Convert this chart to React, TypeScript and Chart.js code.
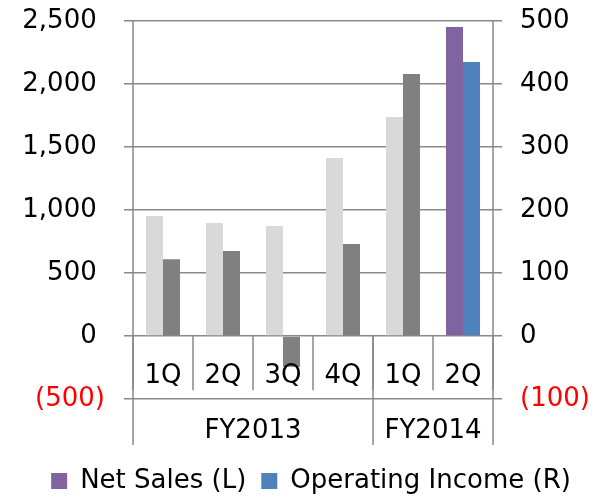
import React, { useEffect, useRef } from "react";
import { Chart, registerables } from "chart.js";

Chart.register(...registerables);

const categories = ["1Q", "2Q", "3Q", "4Q", "1Q", "2Q"];
const groupLabels = ["FY2013", "FY2014"];
const groupSpans = [4, 2];
const netSales = [952, 897, 873, 1413, 1738, 2452];
const operatingIncome = [122, 135, -49, 146, 416, 435];
const netSalesColors = ["#d9d9d9", "#d9d9d9", "#d9d9d9", "#d9d9d9", "#d9d9d9", "#8064a2"];
const operatingIncomeColors = ["#808080", "#808080", "#808080", "#808080", "#808080", "#4f81bd"];
const legendLabels = ["Net Sales (L)", "Operating Income (R)"];
const legendColors = ["#8064a2", "#4f81bd"];
const leftTicks = { min: -500, max: 2500, step: 500 };
const rightTicks = { min: -100, max: 500, step: 100 };

const FONT = "DejaVu Sans";
const FONT_SIZE = 26;
const LINE_COLOR = "#898989";
const GROUP_ROW = 46;

const fmt = (v: number) => {
  const s = Math.abs(v).toLocaleString("en-US");
  return v < 0 ? `(${s})` : `${s} `;
};

const categoryAxisPlugin = {
  id: "categoryAxis",
  afterDatasetsDraw(chart: any) {
    const { ctx, chartArea, scales } = chart;
    const x = scales.x;
    const y = scales.y;
    const y0 = y.getPixelForValue(0);
    const bottom = chartArea.bottom;
    const step = x.getPixelForValue(1) - x.getPixelForValue(0);
    const rowBottom = y0 + (bottom - y0) * 0.86;
    const groupBottom = bottom + GROUP_ROW;
    ctx.save();
    ctx.strokeStyle = LINE_COLOR;
    ctx.lineWidth = 1.5;
    for (let i = 0; i <= categories.length; i++) {
      const px = Math.round(x.getPixelForValue(0) - step / 2 + i * step);
      ctx.beginPath();
      ctx.moveTo(px, y0);
      ctx.lineTo(px, rowBottom);
      ctx.stroke();
    }
    let idx = 0;
    const bounds = [0];
    groupSpans.forEach((s) => {
      idx += s;
      bounds.push(idx);
    });
    bounds.forEach((b) => {
      const px = Math.round(x.getPixelForValue(0) - step / 2 + b * step);
      ctx.beginPath();
      ctx.moveTo(px, b === 0 || b === categories.length ? chartArea.top : y0);
      ctx.lineTo(px, groupBottom);
      ctx.stroke();
    });
    ctx.fillStyle = "#000";
    ctx.font = `${FONT_SIZE}px "${FONT}"`;
    ctx.textAlign = "center";
    ctx.textBaseline = "alphabetic";
    const labelY = y0 + (bottom - y0) * 0.746;
    categories.forEach((c, i) => {
      ctx.fillText(c, x.getPixelForValue(i), labelY);
    });
    let start = 0;
    groupLabels.forEach((g, gi) => {
      const end = start + groupSpans[gi];
      const cx = (x.getPixelForValue(start) + x.getPixelForValue(end - 1)) / 2;
      ctx.fillText(g, cx, bottom + 39);
      start = end;
    });
    ctx.restore();
  },
};

export default function App() {
  const ref = useRef<HTMLCanvasElement | null>(null);
  useEffect(() => {
    if (!ref.current) return;
    const chart = new Chart(ref.current, {
      type: "bar",
      data: {
        labels: categories,
        datasets: [
          {
            label: legendLabels[0],
            data: netSales,
            backgroundColor: netSalesColors,
            yAxisID: "y",
            categoryPercentage: 0.567,
            barPercentage: 1,
          },
          {
            label: legendLabels[1],
            data: operatingIncome,
            backgroundColor: operatingIncomeColors,
            yAxisID: "y1",
            categoryPercentage: 0.567,
            barPercentage: 1,
          },
        ],
      },
      options: {
        animation: false,
        responsive: false,
        layout: { padding: { top: 21, bottom: -6, left: 22, right: 0 } },
        font: { family: FONT, size: FONT_SIZE },
        plugins: {
          tooltip: { enabled: false },
          legend: {
            position: "bottom",
            labels: {
              font: { family: FONT, size: FONT_SIZE },
              color: "#000",
              boxWidth: 16,
              boxHeight: 16,
              padding: 15,
              generateLabels: () =>
                legendLabels.map((t, i) => ({
                  text: t,
                  fillStyle: legendColors[i],
                  strokeStyle: legendColors[i],
                  lineWidth: 0,
                  hidden: false,
                  datasetIndex: i,
                })),
            },
          },
        },
        scales: {
          x: {
            display: true,
            position: "bottom",
            grid: { display: false },
            border: { display: false },
            ticks: { display: false },
            afterFit: (s: any) => {
              s.height = 54;
            },
          },
          y: {
            position: "left",
            min: leftTicks.min,
            max: leftTicks.max,
            border: { display: false },
            grid: { color: LINE_COLOR, lineWidth: 1.5, tickLength: 9, drawTicks: true },
            ticks: {
              stepSize: leftTicks.step,
              padding: 19,
              font: { family: FONT, size: FONT_SIZE },
              color: (c: any) => (c.tick && c.tick.value < 0 ? "#ff0000" : "#000"),
              callback: (v: any) => fmt(Number(v)),
            },
            afterFit: (s: any) => {
              s.width = 111;
              s.paddingTop = 0;
              s.paddingBottom = 0;
            },
          },
          y1: {
            position: "right",
            min: rightTicks.min,
            max: rightTicks.max,
            border: { display: false },
            grid: { drawOnChartArea: false, color: LINE_COLOR, lineWidth: 1.5, tickLength: 9, drawTicks: true },
            ticks: {
              stepSize: rightTicks.step,
              padding: 18,
              font: { family: FONT, size: FONT_SIZE },
              color: (c: any) => (c.tick && c.tick.value < 0 ? "#ff0000" : "#000"),
              callback: (v: any) => {
                const n = Number(v);
                return n < 0 ? `(${Math.abs(n)})` : `${n}`;
              },
            },
            afterFit: (s: any) => {
              s.width = 107;
              s.paddingTop = 0;
              s.paddingBottom = 0;
            },
          },
        },
      } as any,
      plugins: [categoryAxisPlugin],
    });
    return () => chart.destroy();
  }, []);
  return (
    <div style={{ position: "absolute", left: 0, top: 0, width: 600, height: 498, background: "#fff" }}>
      <canvas ref={ref} width={600} height={498} />
    </div>
  );
}
